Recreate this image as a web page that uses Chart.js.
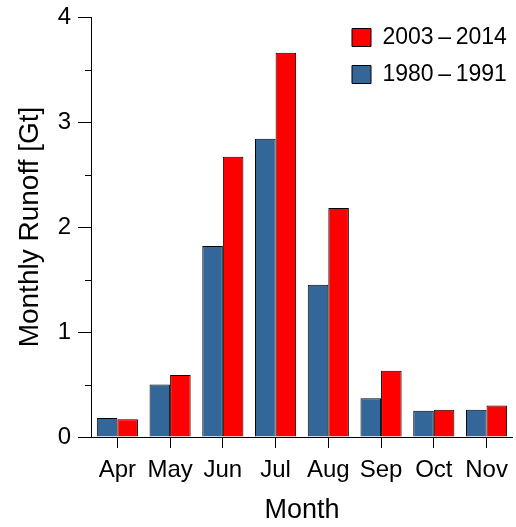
<!DOCTYPE html>
<html>
<head>
<meta charset="utf-8">
<script src="https://cdn.jsdelivr.net/npm/chart.js@4.4.1/dist/chart.umd.min.js"></script>
<style>
  html, body { margin: 0; padding: 0; background: #ffffff; }
  #wrap { width: 516px; height: 527px; }
</style>
</head>
<body>
<div id="wrap"><canvas id="runoff" width="516" height="527"></canvas></div>
<script>
// Monthly runoff, two 12-year periods
const months = ['Apr', 'May', 'Jun', 'Jul', 'Aug', 'Sep', 'Oct', 'Nov'];
const runoffEarly = [0.18, 0.50, 1.82, 2.84, 1.45, 0.37, 0.25, 0.26];
const runoffLate = [0.17, 0.59, 2.67, 3.66, 2.18, 0.63, 0.26, 0.30];
const periodEarly = '1980\u2009\u2013\u20091991';
const periodLate = '2003\u2009\u2013\u20092014';
const yMajorTicks = [0, 1, 2, 3, 4];
const yMinorTicks = [0.5, 1.5, 2.5, 3.5];

const FONT = '"Liberation Sans", Arial, sans-serif';
const BLUE = '#336699';
const RED = '#ff0000';
const EDGE = '#000000';

// short minor ticks on the y axis, plus legend placed in the upper right of the plot
const axisExtras = {
  id: 'axisExtras',
  afterLayout(chart) {
    const lg = chart.legend;
    if (!lg) return;
    const w = lg.width, h = lg.height;
    lg.left = 338;
    lg.right = lg.left + w;
    lg.top = 12;
    lg.bottom = lg.top + h;
  },
  afterDraw(chart) {
    const y = chart.scales.y;
    const ctx = chart.ctx;
    ctx.save();
    ctx.strokeStyle = '#000';
    ctx.lineWidth = 1;
    ctx.beginPath();
    yMinorTicks.forEach(v => {
      const py = Math.round(y.getPixelForValue(v)) + 0.5;
      ctx.moveTo(y.right - 6, py);
      ctx.lineTo(y.right, py);
    });
    ctx.stroke();
    ctx.restore();
  }
};

new Chart(document.getElementById('runoff'), {
  type: 'bar',
  data: {
    labels: months,
    datasets: [
      {
        label: periodEarly,
        data: runoffEarly,
        backgroundColor: BLUE,
        borderColor: EDGE,
        borderWidth: 1,
        borderSkipped: 'bottom'
      },
      {
        label: periodLate,
        data: runoffLate,
        backgroundColor: RED,
        borderColor: EDGE,
        borderWidth: 1,
        borderSkipped: 'bottom'
      }
    ]
  },
  options: {
    responsive: false,
    animation: false,
    devicePixelRatio: 1,
    layout: { padding: { top: 17, right: 2, left: 0, bottom: 0 } },
    datasets: { bar: { barPercentage: 1.0, categoryPercentage: 0.78 } },
    plugins: {
      tooltip: { enabled: false },
      legend: {
        position: 'chartArea',
        align: 'start',
        reverse: true,
        labels: {
          color: '#000',
          font: { family: FONT, size: 23 },
          boxWidth: 19,
          boxHeight: 18,
          padding: 14,
          generateLabels(chart) {
            return chart.data.datasets.map((ds, i) => ({
              text: ds.label,
              fillStyle: ds.backgroundColor,
              strokeStyle: EDGE,
              lineWidth: 1,
              datasetIndex: i,
              hidden: false,
              fontColor: '#000'
            }));
          }
        }
      }
    },
    scales: {
      x: {
        grid: {
          display: true,
          offset: false,
          drawOnChartArea: false,
          drawTicks: true,
          tickLength: 11,
          tickColor: '#000',
          tickWidth: 1
        },
        border: { display: true, color: '#000', width: 1 },
        ticks: {
          color: '#000',
          font: { family: FONT, size: 24 },
          padding: 8,
          maxRotation: 0,
          autoSkip: false
        },
        title: {
          display: true,
          text: 'Month',
          color: '#000',
          font: { family: FONT, size: 27 },
          padding: { top: 4, bottom: 0 }
        },
        afterFit(scale) { scale.height = 90; }
      },
      y: {
        min: 0,
        max: 4,
        grid: {
          display: true,
          drawOnChartArea: false,
          drawTicks: true,
          tickLength: 13,
          tickColor: '#000',
          tickWidth: 1
        },
        border: { display: true, color: '#000', width: 1 },
        afterBuildTicks(scale) {
          scale.ticks = yMajorTicks.map(v => ({ value: v }));
        },
        ticks: {
          color: '#000',
          font: { family: FONT, size: 24 },
          padding: 7,
          callback: v => String(v)
        },
        title: {
          display: true,
          text: 'Monthly Runoff [Gt]',
          color: '#000',
          font: { family: FONT, size: 28 },
          padding: { top: 13, bottom: 0 }
        },
        afterFit(scale) {
          scale.width = 91;
          scale.paddingTop = 0;
          scale.paddingBottom = 0;
        }
      }
    }
  },
  plugins: [axisExtras]
});
</script>
</body>
</html>
